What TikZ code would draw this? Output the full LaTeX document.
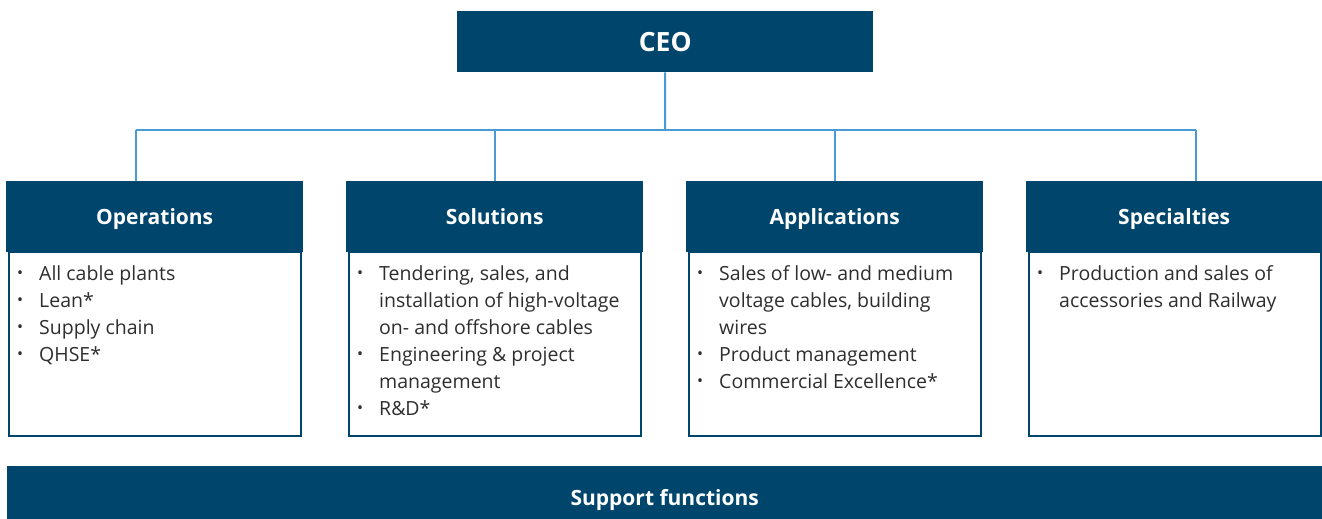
\documentclass[tikz,border=0pt]{standalone}
\usepackage{fontspec}
\setmainfont{Open Sans}
\definecolor{navy}{HTML}{00456C}
\definecolor{linkblue}{HTML}{4A9BD5}
\definecolor{bodytext}{HTML}{2E2E2E}
\newcommand{\bul}{\makebox[22pt][l]{\raisebox{2pt}{\fontsize{16}{16}\selectfont •}}}
\tikzset{
  hdr/.style={fill=navy, text=white, font=\fontsize{21}{24}\selectfont\bfseries, minimum height=71pt, inner sep=0pt, text height=15pt, text depth=0pt, anchor=north west},
  bodybox/.style={draw=navy, line width=2.2pt, fill=white, inner sep=0pt, anchor=north west},
  bodytxt/.style={font=\fontsize{19.5}{27}\selectfont, text=bodytext, inner sep=0pt, anchor=north west, align=left},
  link/.style={draw=linkblue, line width=2pt}
}
\begin{document}
\begin{tikzpicture}[x=1pt,y=-1pt]
\useasboundingbox (0,0) rectangle (1322,519);
% CEO
\node[fill=navy, text=white, font=\fontsize{26.5}{30}\selectfont\bfseries, minimum width=416pt, minimum height=61pt, inner sep=0pt, text height=19pt, text depth=0pt, anchor=north west] (ceo) at (457,11) {CEO};
% body boxes
\draw[bodybox] (9,252) rectangle (301,436);
\draw[bodybox] (349,252) rectangle (641,436);
\draw[bodybox] (689,252) rectangle (981,436);
\draw[bodybox] (1029,252) rectangle (1321,436);
% headers
\node[hdr, minimum width=297pt] (ops) at (6,181) {Operations};
\node[hdr, minimum width=297pt] (sol) at (346,181) {Solutions};
\node[hdr, minimum width=297pt] (app) at (686,181) {Applications};
\node[hdr, minimum width=296pt] (spe) at (1026,181) {Specialties};
% connectors
\coordinate (bus) at (665,130);
\coordinate (busL) at (136,130);
\coordinate (busR) at (1196,130);
\draw[link] (ceo.south) -- (bus);
\draw[link] (busL) -- (busR);
\draw[link] (busL) -- (136,181);
\draw[link] (495,130) -- (495,181);
\draw[link] (835,130) -- (835,181);
\draw[link] (busR) -- (1196,181);
% body texts
\node[bodytxt] (opst) at (17,261) {\begin{tabular}{@{}l@{}l@{}}
\bul & All cable plants\\
\bul & Lean*\\
\bul & Supply chain\\
\bul & QHSE*
\end{tabular}};
\node[bodytxt] (solt) at (357,261) {\begin{tabular}{@{}l@{}l@{}}
\bul & Tendering, sales, and\\
 & installation of high-voltage\\
 & on- and offshore cables\\
\bul & Engineering \& project\\
 & management\\
\bul & R\&D*
\end{tabular}};
\node[bodytxt] (appt) at (697,261) {\begin{tabular}{@{}l@{}l@{}}
\bul & Sales of low- and medium\\
 & voltage cables, building\\
 & wires\\
\bul & Product management\\
\bul & Commercial Excellence*
\end{tabular}};
\node[bodytxt] (spet) at (1037,261) {\begin{tabular}{@{}l@{}l@{}}
\bul & Production and sales of\\
 & accessories and Railway
\end{tabular}};
% support
\node[fill=navy, text=white, font=\fontsize{21}{24}\selectfont\bfseries, minimum width=1315pt, minimum height=64pt, inner sep=0pt, text height=15pt, text depth=0pt, anchor=north west] (sup) at (7,466) {Support functions};
\end{tikzpicture}
\end{document}
